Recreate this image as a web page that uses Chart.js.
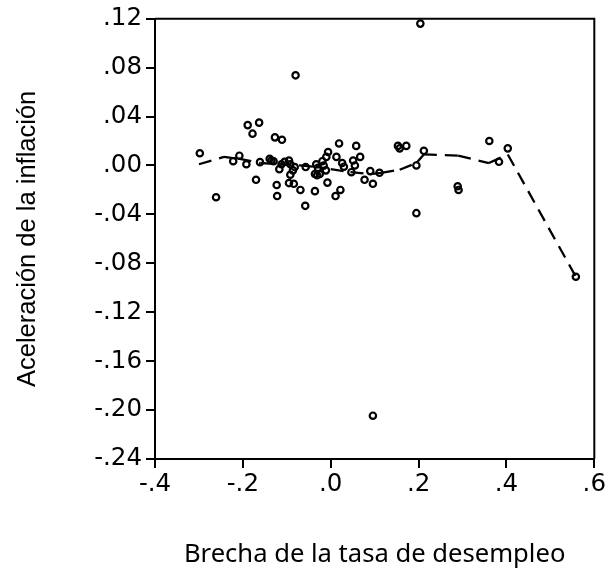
<!DOCTYPE html>
<html>
<head>
<meta charset="utf-8">
<script src="https://cdn.jsdelivr.net/npm/chart.js@4/dist/chart.umd.min.js"></script>
<style>
html,body{margin:0;padding:0;background:#fff;}
#wrap{width:608px;height:571px;position:relative;}
</style>
</head>
<body>
<div id="wrap"><canvas id="c" width="608" height="571"></canvas></div>
<script>
// Brecha de la tasa de desempleo (x) vs Aceleración de la inflación (y)
const gapX = [
  -0.298, -0.261, -0.222, -0.208, -0.192, -0.170, -0.161, -0.139, -0.135, -0.130,
  -0.123, -0.122, -0.117, -0.112, -0.105, -0.095, -0.092, -0.092, -0.095, -0.084,
  -0.082, -0.069, -0.057, -0.058, -0.036, -0.033, -0.029, -0.025, -0.036, -0.031,
  -0.016, -0.019, -0.010, -0.006, -0.011, -0.0075, 0.011, 0.022, 0.013, 0.019,
  0.026, 0.030, 0.047, 0.051, 0.055, 0.058, 0.067, 0.077, 0.090, 0.096,
  0.111, 0.153, 0.157, 0.172, 0.195, 0.195, -0.189, -0.163, -0.178, -0.127,
  -0.111, 0.212, 0.204, 0.289, 0.291, 0.361, 0.383, 0.403, 0.558, 0.096,
  -0.080, -0.086
];
const accelY = [
  0.010, -0.026, 0.0035, 0.008, 0.001, -0.0117, 0.0027, 0.0055, 0.004, 0.0035,
  -0.016, -0.025, -0.003, 0.001, 0.003, 0.004, 0.001, -0.0076, -0.0144, -0.015,
  -0.0013, -0.020, -0.0013, -0.033, -0.021, 0.001, -0.002, -0.007, -0.007, -0.008,
  0.000, 0.0035, 0.007, 0.011, -0.004, -0.014, -0.025, -0.020, 0.007, 0.018,
  0.002, -0.001, -0.0055, 0.004, 0.000, 0.016, 0.007, -0.0117, -0.0046, -0.015,
  -0.006, 0.016, 0.014, 0.016, -0.039, 0.000, 0.033, 0.035, 0.026, 0.023,
  0.021, 0.012, 0.116, -0.017, -0.020, 0.020, 0.003, 0.014, -0.091, -0.2046,
  0.0737, -0.004
];
// Smoothed (lowess) curve
const lowessX = [-0.300, -0.243, -0.210, -0.160, -0.120, -0.070, -0.040, 0.000, 0.045, 0.090, 0.115, 0.157, 0.195, 0.212, 0.290, 0.360, 0.403, 0.558];
const lowessY = [0.001, 0.007, 0.0055, 0.002, 0.001, 0.000, -0.001, -0.003, -0.0055, -0.007, -0.006, -0.0035, 0.002, 0.009, 0.008, 0.002, 0.009, -0.091];

const xTicks = [-0.4, -0.2, 0.0, 0.2, 0.4, 0.6];
const xTickLabels = ['-.4', '-.2', '.0', '.2', '.4', '.6'];
const yTicks = [-0.24, -0.20, -0.16, -0.12, -0.08, -0.04, 0.00, 0.04, 0.08, 0.12];
const yTickLabels = ['-.24', '-.20', '-.16', '-.12', '-.08', '-.04', '.00', '.04', '.08', '.12'];

const xTitle = 'Brecha de la tasa de desempleo';
const yTitle = 'Aceleración de la inflación';

const scatterPts = gapX.map((x, i) => ({x: x, y: accelY[i]}));
const lowessPts = lowessX.map((x, i) => ({x: x, y: lowessY[i]}));

const boxPlugin = {
  id: 'box',
  afterDatasetsDraw(chart) {
    const {ctx, chartArea: a} = chart;
    ctx.save();
    ctx.strokeStyle = '#000';
    ctx.lineWidth = 2;
    ctx.beginPath();
    ctx.moveTo(a.left, a.top);
    ctx.lineTo(a.right, a.top);
    ctx.lineTo(a.right, a.bottom);
    ctx.stroke();
    ctx.restore();
  }
};

const tickFont = {family: '"DejaVu Sans", Verdana, sans-serif', size: 24.5};

new Chart(document.getElementById('c'), {
  type: 'scatter',
  data: {
    datasets: [
      {
        type: 'line',
        data: lowessPts,
        borderColor: '#000',
        borderWidth: 2.3,
        borderDash: [13, 8],
        pointRadius: 0,
        fill: false,
        tension: 0,
        segment: {
          borderDashOffset: ctx => ctx.p0DataIndex * 0.001
        },
        order: 2
      },
      {
        data: scatterPts,
        pointStyle: 'circle',
        pointRadius: 3.2,
        pointBorderWidth: 2.2,
        pointBorderColor: '#000',
        pointBackgroundColor: 'rgba(0,0,0,0)',
        showLine: false,
        order: 1
      }
    ]
  },
  options: {
    responsive: false,
    animation: false,
    layout: {padding: {left: 0, right: 12, top: 18, bottom: 0}},
    plugins: {legend: {display: false}, tooltip: {enabled: false}},
    scales: {
      x: {
        type: 'linear',
        min: -0.4, max: 0.6,
        afterBuildTicks: s => { s.ticks = xTicks.map(v => ({value: v})); },
        afterFit: s => { s.height = 112; },
        ticks: {
          callback: (v, i) => xTickLabels[i],
          font: tickFont, color: '#000', padding: 2, maxRotation: 0, autoSkip: false
        },
        grid: {drawOnChartArea: false, tickLength: 9, lineWidth: 2, color: '#000'},
        border: {display: true, color: '#000', width: 2},
        title: {
          display: true, text: xTitle, color: '#000',
          font: {family: '"Noto Sans", Tahoma, sans-serif', size: 25.6},
          padding: {top: 0, bottom: 1}
        }
      },
      y: {
        type: 'linear',
        min: -0.24, max: 0.12,
        afterBuildTicks: s => { s.ticks = yTicks.map(v => ({value: v})); },
        afterFit: s => { s.width = 155; },
        ticks: {
          callback: (v, i) => yTickLabels[i],
          font: tickFont, color: '#000', padding: 4, autoSkip: false
        },
        grid: {drawOnChartArea: false, tickLength: 9, lineWidth: 2, color: '#000'},
        border: {display: true, color: '#000', width: 2},
        title: {
          display: true, text: yTitle, color: '#000',
          font: {family: '"Liberation Sans", Arial, sans-serif', size: 25.5},
          padding: {top: 13, bottom: 0}
        }
      }
    }
  },
  plugins: [boxPlugin]
});
</script>
</body>
</html>
